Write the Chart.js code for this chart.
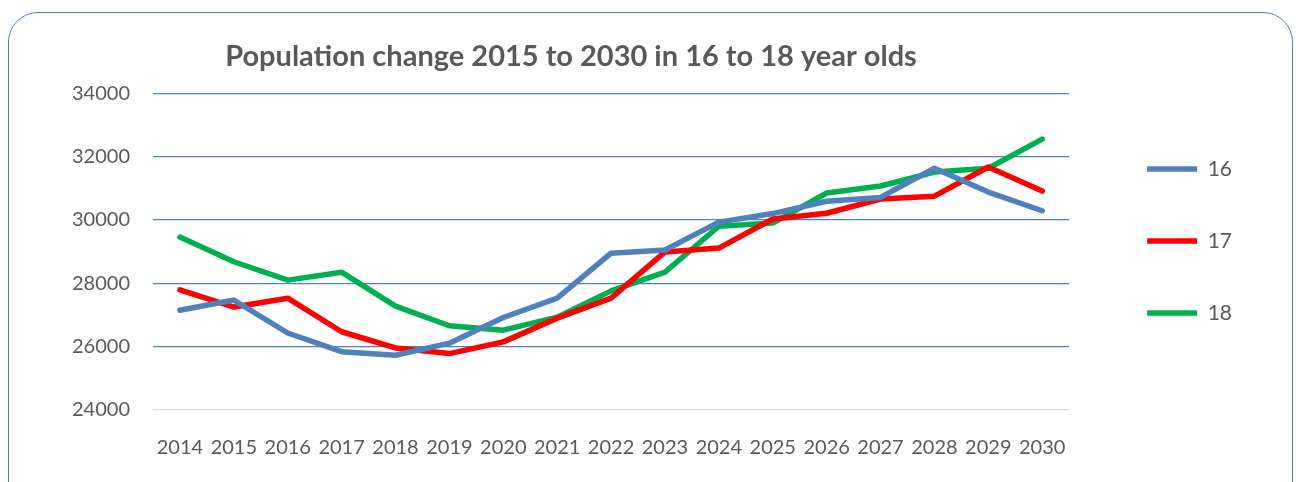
<!DOCTYPE html>
<html>
<head>
<meta charset="utf-8">
<script src="https://cdn.jsdelivr.net/npm/chart.js@4"></script>
<style>
  html, body { margin: 0; padding: 0; background: #fff; overflow: hidden; }
  #frame {
    position: absolute; left: 8px; top: 12px; width: 1285px; height: 520px;
    border: 1.5px solid #4f81bd; border-radius: 30px; box-sizing: border-box;
  }
  #lineChart { position: absolute; left: 0; top: 0; }
</style>
</head>
<body>
<div id="frame"></div>
<canvas id="lineChart" width="1303" height="482"></canvas>
<script>
// Data ----------------------------------------------------

const years = ['2014','2015','2016','2017','2018','2019','2020','2021','2022','2023','2024','2025','2026','2027','2028','2029','2030'];

// population per age group
const age16 = [27150, 27470, 26430, 25840, 25730, 26110, 26920, 27530, 28950, 29050, 29930, 30200, 30590, 30710, 31630, 30880, 30290];
const age17 = [27790, 27250, 27530, 26470, 25960, 25780, 26150, 26900, 27530, 28990, 29110, 30030, 30210, 30660, 30750, 31670, 30910];
const age18 = [29460, 28680, 28100, 28350, 27280, 26660, 26520, 26930, 27760, 28350, 29800, 29900, 30850, 31070, 31510, 31630, 32550];

const yTicks = { min: 24000, max: 34000, step: 2000 };

const grey = '#595959';
const font = 'Lato';

// Chart ---------------------------------------------------

function series(label, values, color) {
  return {
    label: label,
    data: values,
    borderColor: color,
    backgroundColor: color,
    borderWidth: 5.5,
    borderCapStyle: 'round',
    borderJoinStyle: 'round',
    pointRadius: 0,
    tension: 0
  };
}

const data = {
  labels: years,
  datasets: [
    series('16', age16, '#4f81bd'),
    series('17', age17, '#ff0000'),
    series('18', age18, '#00b050')
  ]
};

const config = {
  type: 'line',
  data,
  options: {
    responsive: false,
    animation: false,
    // negative left padding so the title (centred on the padded width) sits left of the plot centre
    layout: { padding: { left: -100, right: 61, top: 0, bottom: 0 } },
    plugins: {
      title: {
        display: true,
        text: 'Population change 2015 to 2030 in 16 to 18 year olds',
        color: grey,
        font: { family: font, size: 29, weight: 'bold', lineHeight: 1.2 },
        padding: { top: 39, bottom: 19.4 }
      },
      legend: {
        position: 'right',
        labels: {
          usePointStyle: true,
          pointStyle: 'line',
          pointStyleWidth: 50,
          padding: 51,
          color: grey,
          font: { family: font, size: 21 }
        }
      },
      tooltip: { enabled: false }
    },
    scales: {
      x: {
        offset: true,
        grid: { display: false },
        border: { display: false },
        ticks: { color: grey, font: { family: font, size: 20 }, padding: 18, maxRotation: 0, autoSkip: false },
        afterFit: s => { s.height = 72; }
      },
      y: {
        min: yTicks.min,
        max: yTicks.max,
        grid: {
          drawTicks: false,
          lineWidth: 1.3,
          color: c => (c.tick && c.tick.value === yTicks.min) ? '#d9d9d9' : '#4f81bd'
        },
        border: { display: false },
        ticks: {
          stepSize: yTicks.step, color: grey, font: { family: font, size: 20 }, padding: 23,
          callback: v => String(v)
        },
        afterFit: s => { s.width = 253; }
      },
      // empty right axis, only keeps a gap between plot and legend
      gap: {
        type: 'linear',
        position: 'right',
        display: true,
        grid: { display: false },
        border: { display: false },
        ticks: { display: false },
        afterFit: s => { s.width = 27; }
      }
    }
  }
};

const lineChart = new Chart(document.getElementById('lineChart'), config);
</script>
</body>
</html>
